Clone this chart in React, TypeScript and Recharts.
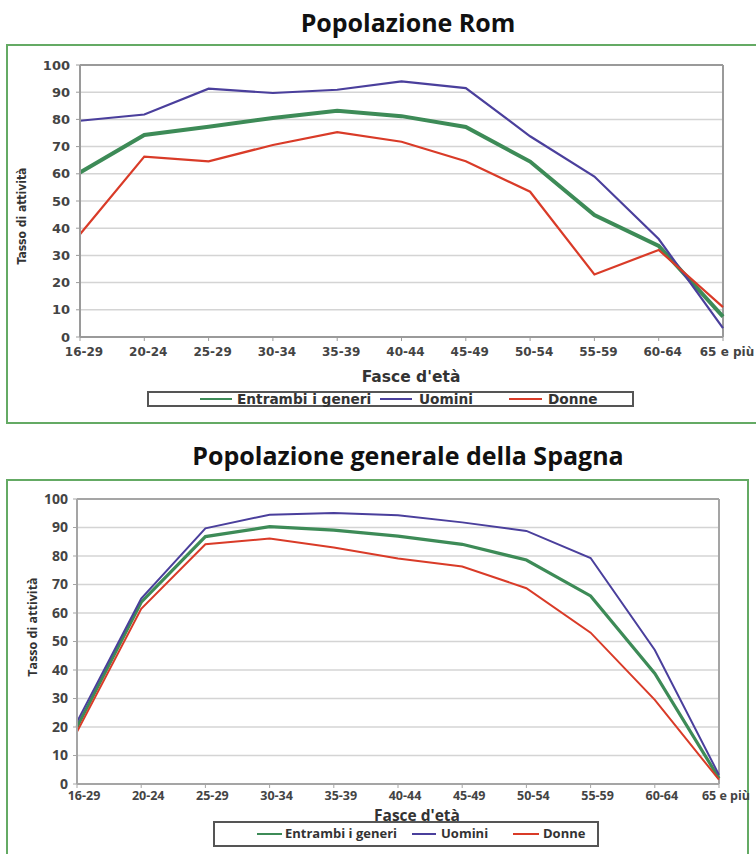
import React from 'react';
import { LineChart, Line, XAxis, YAxis, CartesianGrid, ReferenceLine } from 'recharts';

const categories = ['16-29', '20-24', '25-29', '30-34', '35-39', '40-44', '45-49', '50-54', '55-59', '60-64', '65 e più'];
const yTicks = [0, 10, 20, 30, 40, 50, 60, 70, 80, 90, 100];

const romEntrambi = [60.5, 74.3, 77.3, 80.5, 83.2, 81.2, 77.2, 64.5, 44.8, 33.5, 7.5];
const romUomini = [79.5, 81.8, 91.3, 89.7, 90.9, 94.0, 91.5, 73.8, 59.0, 36.0, 3.3];
const romDonne = [37.8, 66.3, 64.6, 70.6, 75.3, 71.8, 64.6, 53.4, 23.0, 32.0, 11.0];

const spaEntrambi = [20.0, 63.8, 86.8, 90.3, 89.1, 87.0, 84.1, 78.6, 66.0, 38.8, 2.0];
const spaUomini = [21.8, 65.1, 89.7, 94.5, 95.1, 94.3, 91.8, 88.8, 79.3, 47.0, 3.2];
const spaDonne = [18.3, 61.5, 84.1, 86.1, 83.0, 79.1, 76.3, 68.7, 53.1, 29.5, 1.5];

const seriesNames = ['Entrambi i generi', 'Uomini', 'Donne'];
const GREEN = '#3d8b57';
const BLUE = '#4a3f9c';
const RED = '#d93b28';

const romData = categories.map((c, i) => ({ cat: c, entrambi: romEntrambi[i], uomini: romUomini[i], donne: romDonne[i] }));
const spaData = categories.map((c, i) => ({ cat: c, entrambi: spaEntrambi[i], uomini: spaUomini[i], donne: spaDonne[i] }));

const F1 = '"DejaVu Sans", Verdana, sans-serif';
const F1C = '"DejaVu Sans Condensed", "DejaVu Sans", sans-serif';
const F2 = '"Open Sans", sans-serif';

const abs = (o: React.CSSProperties): React.CSSProperties => ({ position: 'absolute', ...o });

function LegendItem({ x1, x2, tx, cy, color, label, font, size, lw }: any) {
  return (
    <>
      <div style={abs({ left: x1, top: cy - lw / 2, width: x2 - x1, height: lw, background: color })} />
      <div style={abs({ left: tx, top: cy - size * 0.6, fontFamily: font, fontWeight: 700, fontSize: size, lineHeight: `${size * 1.2}px`, color: '#333', whiteSpace: 'nowrap' })}>{label}</div>
    </>
  );
}

export default function App() {
  return (
    <div style={abs({ left: 0, top: 0, width: 756, height: 854, overflow: 'hidden', background: '#fff' })}>
      {/* Chart 1 */}
      <div style={abs({ left: 0, top: 6, width: 816, textAlign: 'center', fontFamily: F2, fontWeight: 700, fontSize: 25, lineHeight: '32px', color: '#111' })}>Popolazione Rom</div>
      <div style={abs({ left: 6, top: 44, width: 760, height: 380, border: '2px solid #64aa64', boxSizing: 'border-box' })} />
      <div style={abs({ left: 0, top: 44 })}>
        <LineChart width={756} height={380} data={romData} margin={{ top: 21, right: 33, left: 10, bottom: 57 }}>
          <CartesianGrid vertical={false} stroke="#d4d4d4" strokeWidth={1.5} />
          <XAxis dataKey="cat" height={30} tickSize={4} tickMargin={6} interval={0}
            axisLine={{ stroke: '#9a9a9a', strokeWidth: 2 }} tickLine={{ stroke: '#9a9a9a' }}
            tick={{ fontFamily: F1, fontWeight: 700, fontSize: 12, fill: '#444', dx: 4 }} />
          <YAxis width={70} domain={[0, 100]} ticks={yTicks} tickSize={4} tickMargin={6} interval={0}
            axisLine={{ stroke: '#9a9a9a', strokeWidth: 2 }} tickLine={{ stroke: '#9a9a9a' }}
            tick={{ fontFamily: F1, fontWeight: 700, fontSize: 13, fill: '#444' }} />
          <ReferenceLine y={100} stroke="#9a9a9a" strokeWidth={2} />
          <ReferenceLine x="65 e più" stroke="#9a9a9a" strokeWidth={2} />
          <Line dataKey="entrambi" name={seriesNames[0]} stroke={GREEN} strokeWidth={4} dot={false} isAnimationActive={false} />
          <Line dataKey="uomini" name={seriesNames[1]} stroke={BLUE} strokeWidth={2.2} dot={false} isAnimationActive={false} />
          <Line dataKey="donne" name={seriesNames[2]} stroke={RED} strokeWidth={2.2} dot={false} isAnimationActive={false} />
        </LineChart>
      </div>
      <div style={abs({ left: 22 - 100, top: 216 - 10, width: 200, height: 20, transform: 'rotate(-90deg)', textAlign: 'center', fontFamily: F1C, fontWeight: 700, fontSize: 12, lineHeight: '20px', color: '#333' })}>Tasso di attività</div>
      <div style={abs({ left: 311, top: 368, width: 200, textAlign: 'center', fontFamily: F1, fontWeight: 700, fontSize: 15.5, lineHeight: '18px', color: '#333' })}>Fasce d'età</div>
      <div style={abs({ left: 147, top: 391, width: 487, height: 16, border: '2px solid #555', boxSizing: 'border-box', background: '#fff' })} />
      <LegendItem x1={200} x2={232} tx={237} cy={399} color={GREEN} label={seriesNames[0]} font={F1} size={13.7} lw={2.5} />
      <LegendItem x1={380} x2={412} tx={419} cy={399} color={BLUE} label={seriesNames[1]} font={F1} size={13.7} lw={2.2} />
      <LegendItem x1={509} x2={542} tx={548} cy={399} color={RED} label={seriesNames[2]} font={F1} size={13.7} lw={2.2} />

      {/* Chart 2 */}
      <div style={abs({ left: 0, top: 439, width: 816, textAlign: 'center', fontFamily: F2, fontWeight: 700, fontSize: 25, lineHeight: '32px', color: '#111' })}>Popolazione generale della Spagna</div>
      <div style={abs({ left: 6, top: 479, width: 743, height: 400, border: '2px solid #64aa64', boxSizing: 'border-box' })} />
      <div style={abs({ left: 0, top: 480 })}>
        <LineChart width={756} height={374} data={spaData} margin={{ top: 19, right: 37, left: 10, bottom: 40 }}>
          <CartesianGrid vertical={false} stroke="#d4d4d4" strokeWidth={1.5} />
          <XAxis dataKey="cat" height={30} tickSize={4} tickMargin={3} interval={0}
            axisLine={{ stroke: '#a5a5a5', strokeWidth: 2 }} tickLine={{ stroke: '#a5a5a5' }}
            tick={{ fontFamily: F2, fontWeight: 700, fontSize: 12.5, fill: '#444', dx: 7 }} />
          <YAxis width={67} domain={[0, 100]} ticks={yTicks} tickSize={4} tickMargin={5} interval={0}
            axisLine={{ stroke: '#a5a5a5', strokeWidth: 2 }} tickLine={{ stroke: '#a5a5a5' }}
            tick={{ fontFamily: F2, fontWeight: 700, fontSize: 14, fill: '#444' }} />
          <ReferenceLine y={100} stroke="#a5a5a5" strokeWidth={2} />
          <ReferenceLine x="65 e più" stroke="#a5a5a5" strokeWidth={2} />
          <Line dataKey="entrambi" name={seriesNames[0]} stroke={GREEN} strokeWidth={3.2} dot={false} isAnimationActive={false} />
          <Line dataKey="uomini" name={seriesNames[1]} stroke={BLUE} strokeWidth={2} dot={false} isAnimationActive={false} />
          <Line dataKey="donne" name={seriesNames[2]} stroke={RED} strokeWidth={2} dot={false} isAnimationActive={false} />
        </LineChart>
      </div>
      <div style={abs({ left: 33 - 100, top: 627 - 10, width: 200, height: 20, transform: 'rotate(-90deg)', textAlign: 'center', fontFamily: F2, fontWeight: 700, fontSize: 12.5, lineHeight: '20px', color: '#333' })}>Tasso di attività</div>
      <div style={abs({ left: 317, top: 807, width: 200, textAlign: 'center', fontFamily: F2, fontWeight: 700, fontSize: 15.5, lineHeight: '16px', color: '#333' })}>Fasce d'età</div>
      <div style={abs({ left: 213, top: 821, width: 386, height: 26, border: '2px solid #555', boxSizing: 'border-box', background: '#fff' })} />
      <LegendItem x1={257} x2={282} tx={285} cy={834} color={GREEN} label={seriesNames[0]} font={F2} size={13} lw={2} />
      <LegendItem x1={412} x2={436} tx={441} cy={834} color={BLUE} label={seriesNames[1]} font={F2} size={13} lw={2} />
      <LegendItem x1={513} x2={539} tx={543} cy={834} color={RED} label={seriesNames[2]} font={F2} size={13} lw={2} />
    </div>
  );
}
